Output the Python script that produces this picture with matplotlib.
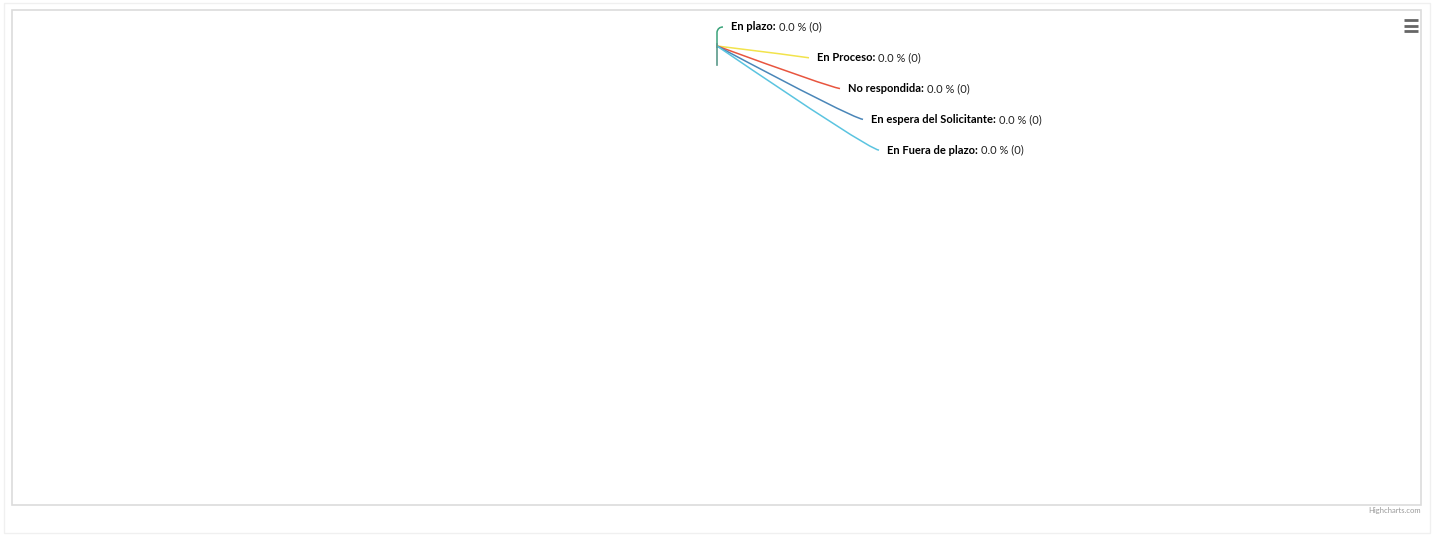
import matplotlib.pyplot as plt
from matplotlib.patches import Rectangle
from matplotlib.path import Path
from matplotlib.patches import PathPatch

# Pie data (every slice is zero)
categories = ['En plazo', 'En Proceso', 'No respondida',
              'En espera del Solicitante', 'En Fuera de plazo']
values = [0, 0, 0, 0, 0]
colors = ['#3aa37a', '#f2e34c', '#e8553f', '#4a86b8', '#5bc4e0']

total = sum(values)
percents = [(v / total * 100) if total else 0.0 for v in values]

W, H = 1435, 536
fig = plt.figure(figsize=(W / 100, H / 100), dpi=100)
ax = fig.add_axes([0, 0, 1, 1])
ax.set_xlim(0, W)
ax.set_ylim(H, 0)
ax.axis('off')

# outer container and chart frame
ax.add_patch(Rectangle((4, 3), 1426, 530, fill=False, ec='#f0f0f0', lw=1))
ax.add_patch(Rectangle((12, 10), 1409, 495, fill=False, ec='#dcdcdc', lw=1.2))

# hamburger menu
for k in range(3):
    ax.plot([1404, 1418], [20 + k * 5.5, 20 + k * 5.5], color='#666666', lw=2.0,
            solid_capstyle='butt')

ax.text(1421, 511, 'Highcharts.com', ha='right', va='center', fontsize=5.5,
        color='#999999', family='Lato')

# zero-size slices all sit at the top of the pie; labels fan out to the right
ox, oy = 717, 48
label_x = [731, 817, 848, 871, 887]
ax.plot([ox, ox], [oy - 4, oy + 17], color='#5a9a8a', lw=1.2)

fig.canvas.draw()
renderer = fig.canvas.get_renderer()
inv = ax.transData.inverted()

for i, (cat, val, pct, col) in enumerate(zip(categories, values, percents, colors)):
    ly = 27 + i * 30.8
    lx = label_x[i]
    if i == 0:
        verts = [(ox, oy), (ox, ly + 5), (ox + 1, ly), (lx - 8, ly)]
        codes = [Path.MOVETO, Path.LINETO, Path.CURVE3, Path.CURVE3]
    else:
        verts = [(ox, oy - 2), (lx - 20, ly - 2), (lx - 8, ly)]
        codes = [Path.MOVETO, Path.CURVE3, Path.CURVE3]
    ax.add_patch(PathPatch(Path(verts, codes), fill=False, ec=col, lw=1.1))
    t = ax.text(lx, ly, cat + ':', ha='left', va='center', fontsize=8,
                fontweight='bold', color='#000000', family='Lato')
    bb = t.get_window_extent(renderer)
    x_end = inv.transform((bb.x1, bb.y0))[0]
    ax.text(x_end + 3, ly, f'{pct:.1f} % ({val})', ha='left', va='center',
            fontsize=8, color='#222222', family='Lato')

plt.savefig('out.png', dpi=100)
